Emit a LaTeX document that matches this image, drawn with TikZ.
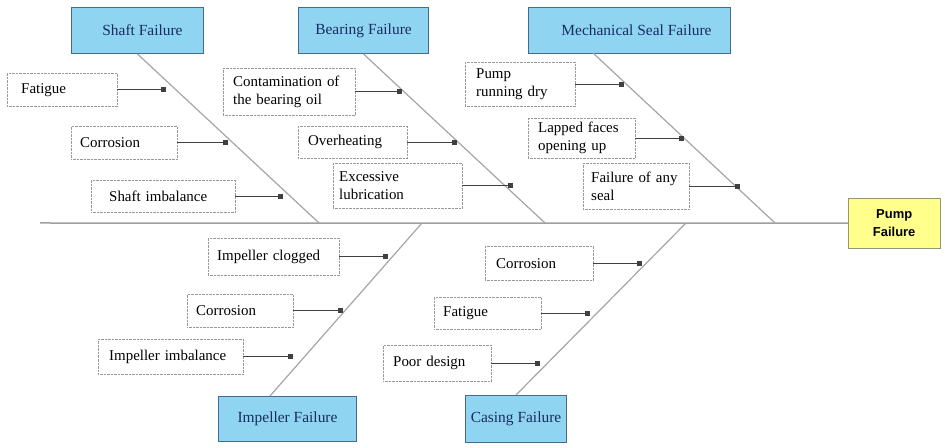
\documentclass[tikz,border=0pt]{standalone}
\usepackage{fontspec}
\setmainfont{Liberation Serif}
\newfontfamily\pumpfont{Liberation Sans}
\usepackage{tikz}
\usetikzlibrary{positioning,arrows.meta}

\definecolor{catblue}{RGB}{143,212,240}
\definecolor{catline}{RGB}{70,105,140}
\definecolor{cattext}{RGB}{25,45,100}
\definecolor{pumpyellow}{RGB}{255,255,140}
\definecolor{pumpline}{RGB}{150,150,110}
\definecolor{boneline}{RGB}{165,165,165}

\tikzset{
    category/.style={draw=catline, line width=1bp, fill=catblue, anchor=north west,
        inner sep=0pt, text=cattext, font=\fontsize{15.5}{18}\selectfont},
    cause/.style={draw=gray!80, densely dotted, fill=white, anchor=north west,
        align=left, inner ysep=0pt, inner xsep=10bp, font=\fontsize{15}{18}\selectfont},
    effect/.style={draw=pumpline, fill=pumpyellow, anchor=north west, align=center,
        inner sep=0pt, font=\pumpfont\bfseries\fontsize{13}{18}\selectfont},
    bone/.style={draw=boneline, line width=1.2bp},
    spine/.style={draw=gray!75, line width=1.5bp},
    causearrow/.style={draw=black!75, line width=0.8bp, -{Square[length=5bp,width=5bp]}},
}

\begin{document}
\begin{tikzpicture}[x=1bp,y=-1bp]
                \useasboundingbox (0,0) rectangle (945,448);

                % head and spine
                \node[effect, minimum width=92bp, minimum height=50bp] (pump) at (848,198) {Pump\\Failure};
                \coordinate (tail) at (40,223);
                \draw[spine] (tail) -- (pump);

                % categories
                \node[category, minimum width=132bp, minimum height=46bp] (sf) at (71,7)   {\hspace*{10bp}Shaft Failure};
                \node[category, minimum width=130bp, minimum height=46bp] (bf) at (298,7)  {Bearing Failure};
                \node[category, minimum width=202bp, minimum height=46bp] (ms) at (528,7)  {\hspace*{14bp}Mechanical Seal Failure};
                \node[category, minimum width=138bp, minimum height=45bp] (if) at (218,396) {Impeller Failure};
                \node[category, minimum width=101bp, minimum height=47bp] (cf) at (465,395) {Casing Failure};

                \coordinate (msTop)  at (593,53);
                \coordinate (ifBot)  at (270,396);
                \coordinate (sfEnd)  at (319,223);
                \coordinate (bfEnd)  at (545,223);
                \coordinate (msEnd)  at (775,223);
                \coordinate (ifEnd)  at (422,223);
                \coordinate (cfEnd)  at (686,223);

                \draw[bone] (sf.south) -- (sfEnd);
                \draw[bone] (bf.south) -- (bfEnd);
                \draw[bone] (msTop)    -- (msEnd);
                \draw[bone] (ifBot)    -- (ifEnd);
                \draw[bone] (cf.north) -- (cfEnd);

                % causes
                \node[cause, text width=82bp,  inner xsep=14bp, minimum height=33bp] (sfFat)  at (7,73)    {Fatigue};
                \node[cause, text width=88bp,  inner xsep=9bp,  minimum height=33bp] (sfCor)  at (71,126)  {Corrosion};
                \node[cause, text width=108bp, inner xsep=18bp, minimum height=32bp] (sfImb)  at (91,180)  {Shaft imbalance};

                \node[cause, text width=112bp, minimum height=47bp] (bfCon)  at (223,68)  {Contamination of\\the bearing oil};
                \node[cause, text width=89bp,  minimum height=32bp] (bfOvh)  at (298,126) {Overheating};
                \node[cause, text width=117bp, inner xsep=6bp, minimum height=45bp] (bfLub)  at (333,163) {Excessive\\lubrication};

                \node[cause, text width=88bp,  inner xsep=11bp, minimum height=44bp] (msDry)  at (465,62)  {Pump\\running dry};
                \node[cause, text width=87bp,  minimum height=40bp] (msLap)  at (528,118) {Lapped faces\\opening up};
                \node[cause, text width=90bp,  inner xsep=8bp, minimum height=46bp] (msSeal) at (583,163) {Failure of any\\seal};

                \node[cause, text width=113bp, inner xsep=9bp,  minimum height=37bp] (ifClg)  at (208,238) {Impeller clogged};
                \node[cause, text width=88bp,  inner xsep=9bp,  minimum height=33bp] (ifCor)  at (187,294) {Corrosion};
                \node[cause, text width=123bp, inner xsep=11bp, minimum height=35bp] (ifImb)  at (98,339)  {Impeller imbalance};

                \node[cause, text width=86bp,  inner xsep=11bp, minimum height=34bp] (cfCor)  at (485,246) {Corrosion};
                \node[cause, text width=89bp,  inner xsep=9bp,  minimum height=32bp] (cfFat)  at (434,297) {Fatigue};
                \node[cause, text width=88bp,  minimum height=36bp] (cfPoor) at (383,345) {Poor design};

                % dots on the bones
                \coordinate (sfFatD)  at (166,0);
                \coordinate (sfCorD)  at (228,0);
                \coordinate (sfImbD)  at (283,0);
                \coordinate (bfConD)  at (402,0);
                \coordinate (bfOvhD)  at (457,0);
                \coordinate (bfLubD)  at (513,0);
                \coordinate (msDryD)  at (624,0);
                \coordinate (msLapD)  at (684,0);
                \coordinate (msSealD) at (740,0);
                \coordinate (ifClgD)  at (388,0);
                \coordinate (ifCorD)  at (343,0);
                \coordinate (ifImbD)  at (293,0);
                \coordinate (cfCorD)  at (642,0);
                \coordinate (cfFatD)  at (590,0);
                \coordinate (cfPoorD) at (540,0);

                \foreach \c in {sfFat,sfCor,sfImb,bfCon,bfOvh,bfLub,msDry,msLap,msSeal,ifClg,ifCor,ifImb,cfCor,cfFat,cfPoor}
                    \draw[causearrow] (\c) -- (\c -| \c D);
\end{tikzpicture}
\end{document}
